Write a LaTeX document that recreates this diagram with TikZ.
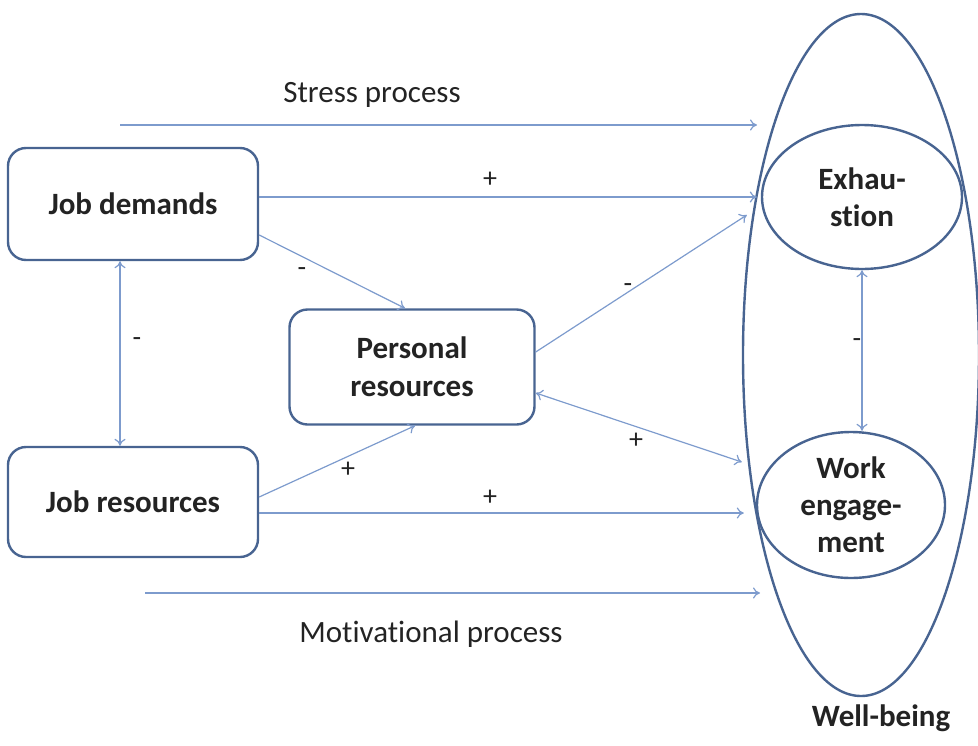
\documentclass[tikz,border=0pt]{standalone}
\usepackage{fontspec}
\setmainfont{Carlito}[Ligatures=NoCommon]
\usetikzlibrary{shapes.geometric,arrows.meta}
\definecolor{boxblue}{RGB}{72,100,145}
\definecolor{linkblue}{RGB}{125,155,205}
\definecolor{txt}{RGB}{35,35,35}
\tikzset{
  box/.style={draw=boxblue, line width=2.4pt, rounded corners=18pt, fill=white,
    minimum width=250, minimum height=112, align=center, text=txt,
    font=\fontsize{31}{38}\selectfont\bfseries},
  oval/.style={draw=boxblue, line width=2.4pt, ellipse, inner sep=0pt, align=center,
    text=txt, font=\fontsize{31}{37}\selectfont\bfseries},
  conn/.style={draw=linkblue, line width=1.2pt, -{To[length=7pt,width=11pt]}},
  bconn/.style={draw=linkblue, line width=1.2pt, {To[length=7pt,width=11pt]}-{To[length=7pt,width=11pt]}},
  sign/.style={text=txt, font=\fontsize{28}{30}\selectfont},
  lbl/.style={text=txt, font=\fontsize{31}{34}\selectfont}
}
\begin{document}
\begin{tikzpicture}[x=1pt,y=-1pt]
\useasboundingbox (0,0) rectangle (978,745);
% well-being
\node[draw=boxblue, line width=2.4pt, ellipse, minimum width=236, minimum height=682, inner sep=0pt] (wb) at (861,355) {};
\node[text=txt, font=\fontsize{31}{34}\selectfont\bfseries] (wbl) at (881,718) {Well-being};
% boxes
\node[box] (jd) at (133,204) {Job demands};
\node[box, minimum height=110] (jr) at (133,502) {Job resources};
\node[box, minimum width=245, minimum height=115] (pr) at (412,367) {Personal\\resources};
\node[oval, minimum width=200, minimum height=144] (ex) at (862,197) {Exhau-\\stion};
\node[oval, minimum width=188, minimum height=146] (we) at (851,505) {Work\\engage-\\ment};
% process arrows
\coordinate (s1) at (120,125);
\coordinate (s2) at (757,125);
\coordinate (m1) at (145,593);
\coordinate (m2) at (760,593);
\draw[conn] (s1) -- (s2);
\draw[conn] (m1) -- (m2);
\node[lbl] (sp) at (372,95) {Stress process};
\node[lbl] (mp) at (431,634) {Motivational process};
% connectors
\draw[conn] (jd.east |- ex.west) -- ([xshift=-4pt]ex.west);
\draw[conn] ([yshift=-31pt]jd.east) -- ([xshift=-7pt]pr.north);
\draw[bconn] ([xshift=-13pt]jd.south) -- ([xshift=-13pt]jr.north);
\draw[conn] ([yshift=5pt]jr.east) -- ([xshift=3pt]pr.south);
\draw[conn] ([yshift=-11pt]jr.east) -- ([xshift=-12pt,yshift=-8pt]we.west);
\draw[conn] ([yshift=15pt]pr.east) -- ([xshift=-14pt,yshift=-18pt]ex.west);
\draw[bconn] ([yshift=-26pt]pr.east) -- ([xshift=-14pt,yshift=43pt]we.west);
\draw[bconn] (ex.south) -- (ex.south |- we.north);
% signs
\node[sign] (p1) at (490,180) {+};
\node[sign] (n1) at (302,272) {-};
\node[sign] (n2) at (137,342) {-};
\node[sign] (p2) at (348,470) {+};
\node[sign] (p3) at (490,498) {+};
\node[sign] (n3) at (628,288) {-};
\node[sign] (p4) at (636,441) {+};
\node[sign] (n4) at (857,343) {-};
\end{tikzpicture}
\end{document}
